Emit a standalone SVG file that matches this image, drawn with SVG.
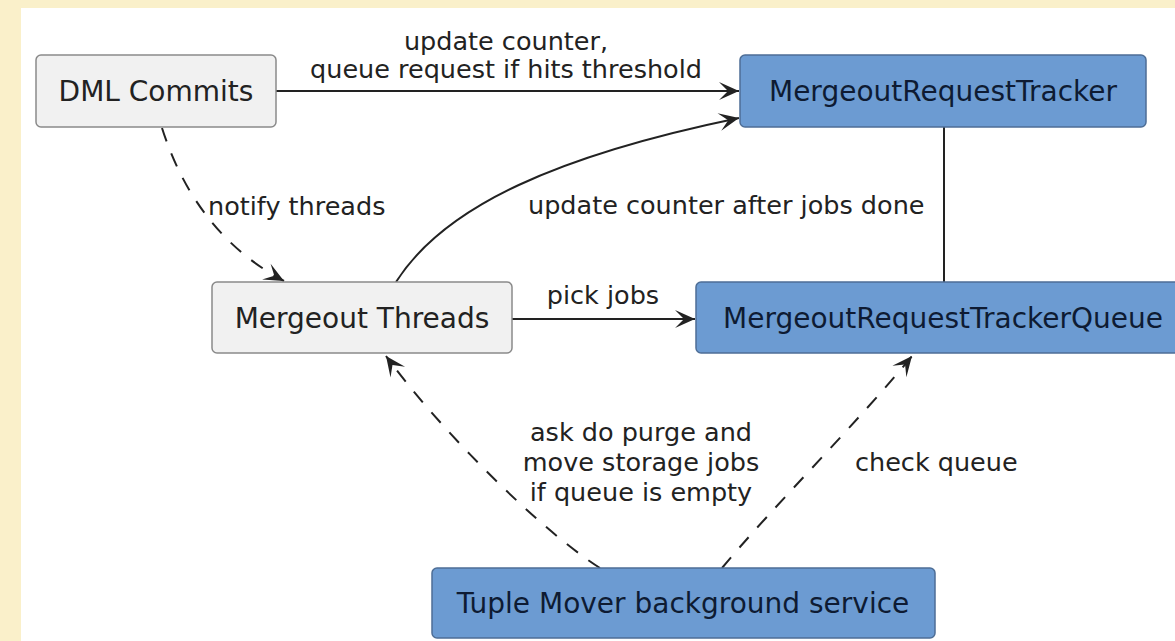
<svg xmlns="http://www.w3.org/2000/svg" width="1175" height="641" viewBox="0 0 1175 641">
<defs>
<style>
.lt{fill:#F1F1F1;stroke:#8a8a8a;stroke-width:1.5}
.bl{fill:#6C9BD2;stroke:#4E6E96;stroke-width:1.5}
.nt{font-family:"DejaVu Sans",sans-serif;font-size:28px;text-anchor:middle}
.ntl{fill:#222222}
.ntb{fill:#0E1B33}
.lb{font-family:"DejaVu Sans",sans-serif;font-size:25.5px;fill:#222222}
.e{fill:none;stroke:#222222;stroke-width:2}
.d{stroke-dasharray:14,13}
</style>
<marker id="ah" markerUnits="userSpaceOnUse" markerWidth="24" markerHeight="22" viewBox="-22 -11 24 22" refX="0" refY="0" orient="auto">
<path d="M0,0 L-20,-9 L-11,0 L-20,9 Z" fill="#222222"/>
</marker>
</defs>
<rect x="0" y="0" width="1175" height="641" fill="#FAF0CA"/>
<rect x="21" y="8" width="1154" height="633" fill="#FFFFFF"/>

<g id="connectors">
<path class="e" d="M276,91 L739,91" marker-end="url(#ah)"/>
<path class="e d" d="M162,128 C185,200 226,250 284,281" marker-end="url(#ah)"/>
<path class="e" d="M396,282 C445,205 560,155 739,118" marker-end="url(#ah)"/>
<path class="e" d="M944,127 L944,282"/>
<path class="e" d="M512,319 L695,319" marker-end="url(#ah)"/>
<path class="e d" d="M600,568 C540,530 440,430 386,356" marker-end="url(#ah)"/>
<path class="e d" d="M722,568 C770,510 860,420 912,356" marker-end="url(#ah)"/>
<text class="lb" x="506" y="50" text-anchor="middle">update counter,</text>
<text class="lb" x="506" y="78" text-anchor="middle">queue request if hits threshold</text>
<text class="lb" x="208" y="215">notify threads</text>
<text class="lb" x="528" y="214">update counter after jobs done</text>
<text class="lb" x="603" y="304" text-anchor="middle">pick jobs</text>
<text class="lb" x="641" y="441" text-anchor="middle">ask do purge and</text>
<text class="lb" x="641" y="471" text-anchor="middle">move storage jobs</text>
<text class="lb" x="641" y="501" text-anchor="middle">if queue is empty</text>
<text class="lb" x="855" y="471">check queue</text>
</g>

<g id="dml-commits">
<rect class="lt" x="36" y="55" width="240" height="72" rx="5"/>
<text class="nt ntl" x="156" y="101">DML Commits</text>
</g>
<g id="mergeout-request-tracker">
<rect class="bl" x="740" y="55" width="406" height="72" rx="5"/>
<text class="nt ntb" x="943" y="101">MergeoutRequestTracker</text>
</g>
<g id="mergeout-threads">
<rect class="lt" x="212" y="282" width="300" height="71" rx="5"/>
<text class="nt ntl" x="362" y="328">Mergeout Threads</text>
</g>
<g id="mergeout-request-tracker-queue">
<rect class="bl" x="696" y="282" width="498" height="71" rx="5"/>
<text class="nt ntb" x="943" y="328">MergeoutRequestTrackerQueue</text>
</g>
<g id="tuple-mover">
<rect class="bl" x="432" y="568" width="503" height="70" rx="5"/>
<text class="nt ntb" x="683" y="613">Tuple Mover background service</text>
</g>
</svg>
